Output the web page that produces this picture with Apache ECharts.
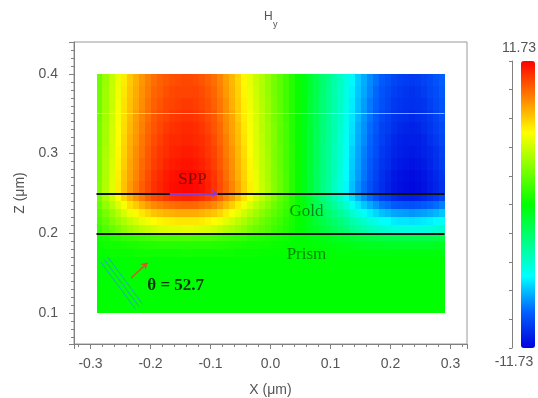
<!DOCTYPE html>
<html>
<head>
<meta charset="utf-8">
<script src="https://cdn.jsdelivr.net/npm/echarts@6/dist/echarts.min.js"></script>
<style>
  html, body { margin: 0; padding: 0; background: #fff; }
  #chart { width: 538px; height: 398px; }
</style>
</head>
<body>
<div id="chart"></div>
<script>
// field grid: column centres (um) and row edges (um, top to bottom)
var xCols = [-0.285, -0.275, -0.265, -0.255, -0.245, -0.235, -0.225, -0.215, -0.205, -0.195,
             -0.185, -0.175, -0.165, -0.155, -0.145, -0.135, -0.125, -0.115, -0.105, -0.095,
             -0.085, -0.075, -0.065, -0.055, -0.045, -0.035, -0.025, -0.015, -0.005, 0.005,
             0.015, 0.025, 0.035, 0.045, 0.055, 0.065, 0.075, 0.085, 0.095, 0.105,
             0.115, 0.125, 0.135, 0.145, 0.155, 0.165, 0.175, 0.185, 0.195, 0.205,
             0.215, 0.225, 0.235, 0.245, 0.255, 0.265, 0.275, 0.285];
var zEdges = [0.40, 0.385, 0.37, 0.355, 0.34, 0.325, 0.31, 0.295, 0.28, 0.265, 0.25,
              0.24, 0.23, 0.22, 0.21, 0.20, 0.19, 0.18, 0.17, 0.10];
var hyRows = [
  [2.5, 3.5, 4.5, 5.4, 6.3, 7.1, 7.7, 8.3, 8.8, 9.2, 9.5, 9.7, 9.9, 10.0, 10.1, 10.1, 10.0, 9.8, 9.5, 9.2, 8.7, 8.1, 7.5, 6.8, 6.0, 5.3, 4.6, 4.0, 3.4, 2.7, 2.1, 1.5, 0.8, 0.2, -0.4, -1.1, -1.8, -2.5, -3.1, -3.8, -4.4, -5.2, -6.0, -6.8, -7.4, -8.0, -8.5, -9.0, -9.3, -9.6, -9.8, -9.9, -10.0, -9.9, -9.7, -9.5, -9.2, -8.9],
  [2.5, 3.6, 4.6, 5.5, 6.4, 7.2, 7.8, 8.4, 8.9, 9.4, 9.6, 9.9, 10.1, 10.2, 10.2, 10.2, 10.2, 10.0, 9.7, 9.4, 8.8, 8.2, 7.6, 6.9, 6.1, 5.4, 4.7, 4.0, 3.4, 2.7, 2.1, 1.5, 0.8, 0.2, -0.4, -1.1, -1.8, -2.5, -3.2, -3.9, -4.5, -5.3, -6.1, -6.9, -7.5, -8.1, -8.7, -9.2, -9.5, -9.8, -10.0, -10.1, -10.2, -10.1, -9.9, -9.6, -9.4, -9.0],
  [2.6, 3.6, 4.6, 5.6, 6.5, 7.3, 7.9, 8.5, 9.1, 9.5, 9.8, 10.1, 10.2, 10.3, 10.4, 10.4, 10.3, 10.1, 9.9, 9.5, 9.0, 8.4, 7.7, 7.0, 6.2, 5.5, 4.8, 4.1, 3.5, 2.8, 2.1, 1.5, 0.8, 0.2, -0.4, -1.2, -1.9, -2.6, -3.2, -3.9, -4.5, -5.3, -6.2, -7.0, -7.7, -8.3, -8.8, -9.3, -9.6, -10.0, -10.1, -10.2, -10.3, -10.2, -10.1, -9.8, -9.5, -9.2],
  [2.6, 3.7, 4.7, 5.7, 6.6, 7.4, 8.1, 8.7, 9.2, 9.7, 10.0, 10.2, 10.4, 10.5, 10.6, 10.6, 10.5, 10.3, 10.0, 9.7, 9.1, 8.5, 7.9, 7.1, 6.3, 5.6, 4.9, 4.2, 3.5, 2.8, 2.2, 1.5, 0.8, 0.2, -0.5, -1.2, -1.9, -2.6, -3.3, -4.0, -4.6, -5.4, -6.3, -7.1, -7.8, -8.4, -9.0, -9.5, -9.8, -10.1, -10.3, -10.4, -10.5, -10.4, -10.2, -10.0, -9.7, -9.3],
  [2.7, 3.8, 4.8, 5.8, 6.7, 7.5, 8.2, 8.8, 9.4, 9.8, 10.1, 10.4, 10.6, 10.7, 10.8, 10.8, 10.7, 10.5, 10.2, 9.8, 9.3, 8.6, 8.0, 7.3, 6.4, 5.7, 5.0, 4.2, 3.6, 2.9, 2.2, 1.6, 0.8, 0.2, -0.5, -1.2, -1.9, -2.7, -3.3, -4.0, -4.7, -5.5, -6.4, -7.3, -7.9, -8.6, -9.1, -9.7, -9.9, -10.3, -10.5, -10.6, -10.7, -10.6, -10.4, -10.1, -9.8, -9.5],
  [2.7, 3.8, 4.9, 5.9, 6.8, 7.7, 8.3, 9.0, 9.5, 10.0, 10.3, 10.6, 10.8, 10.8, 10.9, 10.9, 10.8, 10.7, 10.4, 10.0, 9.4, 8.8, 8.1, 7.4, 6.5, 5.8, 5.0, 4.3, 3.6, 2.9, 2.2, 1.6, 0.8, 0.2, -0.5, -1.2, -2.0, -2.7, -3.4, -4.1, -4.8, -5.6, -6.5, -7.4, -8.0, -8.7, -9.3, -9.8, -10.1, -10.5, -10.7, -10.8, -10.8, -10.8, -10.6, -10.3, -10.0, -9.6],
  [2.8, 3.9, 4.9, 6.0, 6.9, 7.8, 8.5, 9.1, 9.7, 10.2, 10.5, 10.7, 10.9, 11.0, 11.1, 11.1, 11.0, 10.8, 10.5, 10.2, 9.6, 8.9, 8.3, 7.5, 6.7, 5.9, 5.1, 4.4, 3.7, 2.9, 2.3, 1.6, 0.9, 0.2, -0.5, -1.2, -2.0, -2.8, -3.4, -4.2, -4.8, -5.7, -6.7, -7.5, -8.2, -8.8, -9.4, -10.0, -10.3, -10.6, -10.8, -10.9, -11.0, -10.9, -10.7, -10.5, -10.2, -9.8],
  [2.8, 4.0, 5.0, 6.1, 7.0, 7.9, 8.6, 9.3, 9.8, 10.3, 10.6, 10.9, 11.1, 11.2, 11.3, 11.3, 11.2, 11.0, 10.7, 10.3, 9.7, 9.1, 8.4, 7.6, 6.8, 6.0, 5.2, 4.4, 3.8, 3.0, 2.3, 1.6, 0.9, 0.2, -0.5, -1.3, -2.0, -2.8, -3.5, -4.2, -4.9, -5.8, -6.8, -7.6, -8.3, -9.0, -9.6, -10.1, -10.4, -10.8, -11.0, -11.1, -11.2, -11.1, -10.9, -10.6, -10.3, -9.9],
  [2.8, 4.0, 5.1, 6.2, 7.2, 8.0, 8.7, 9.4, 10.0, 10.5, 10.8, 11.1, 11.3, 11.4, 11.5, 11.5, 11.4, 11.2, 10.9, 10.5, 9.9, 9.2, 8.5, 7.7, 6.9, 6.1, 5.3, 4.5, 3.8, 3.0, 2.4, 1.7, 0.9, 0.2, -0.5, -1.3, -2.1, -2.8, -3.5, -4.3, -5.0, -5.9, -6.9, -7.7, -8.4, -9.1, -9.7, -10.3, -10.6, -11.0, -11.2, -11.3, -11.4, -11.3, -11.1, -10.8, -10.5, -10.1],
  [2.9, 4.1, 5.2, 6.3, 7.3, 8.2, 8.9, 9.6, 10.1, 10.6, 10.9, 11.2, 11.4, 11.5, 11.6, 11.6, 11.5, 11.3, 11.0, 10.6, 10.0, 9.4, 8.7, 7.9, 7.0, 6.2, 5.4, 4.6, 3.9, 3.1, 2.4, 1.7, 0.9, 0.2, -0.5, -1.3, -2.1, -2.9, -3.6, -4.4, -5.1, -6.0, -7.0, -7.9, -8.6, -9.3, -9.9, -10.4, -10.7, -11.1, -11.3, -11.4, -11.5, -11.4, -11.2, -10.9, -10.6, -10.2],
  // gold
  [2.7, 3.8, 4.8, 5.9, 6.8, 7.6, 8.3, 8.9, 9.5, 10.0, 10.2, 10.5, 10.7, 10.8, 10.9, 10.9, 10.8, 10.6, 10.3, 10.0, 9.4, 8.7, 8.1, 7.3, 6.5, 5.8, 5.0, 4.3, 3.6, 2.9, 2.2, 1.6, 0.8, 0.2, -0.5, -1.2, -2.0, -2.7, -3.3, -4.1, -4.7, -5.6, -6.5, -7.3, -8.0, -8.6, -9.2, -9.8, -10.0, -10.4, -10.6, -10.7, -10.8, -10.7, -10.5, -10.2, -10.0, -9.6],
  [2.3, 3.3, 4.2, 5.0, 5.8, 6.6, 7.1, 7.7, 8.2, 8.6, 8.8, 9.0, 9.2, 9.3, 9.4, 9.4, 9.3, 9.1, 8.9, 8.6, 8.1, 7.5, 7.0, 6.3, 5.6, 5.0, 4.3, 3.7, 3.1, 2.5, 1.9, 1.4, 0.7, 0.2, -0.4, -1.0, -1.7, -2.3, -2.9, -3.5, -4.1, -4.8, -5.6, -6.3, -6.9, -7.4, -7.9, -8.4, -8.6, -9.0, -9.1, -9.2, -9.3, -9.2, -9.0, -8.8, -8.6, -8.2],
  [1.9, 2.7, 3.5, 4.2, 4.9, 5.5, 6.0, 6.4, 6.8, 7.2, 7.4, 7.6, 7.7, 7.8, 7.8, 7.8, 7.8, 7.6, 7.4, 7.2, 6.8, 6.3, 5.8, 5.3, 4.7, 4.2, 3.6, 3.1, 2.6, 2.1, 1.6, 1.1, 0.6, 0.1, -0.3, -0.9, -1.4, -1.9, -2.4, -2.9, -3.4, -4.0, -4.7, -5.3, -5.8, -6.2, -6.6, -7.0, -7.2, -7.5, -7.6, -7.7, -7.8, -7.7, -7.6, -7.4, -7.2, -6.9],
  [1.6, 2.3, 2.9, 3.5, 4.0, 4.5, 4.9, 5.3, 5.6, 5.9, 6.1, 6.2, 6.3, 6.4, 6.4, 6.4, 6.4, 6.3, 6.1, 5.9, 5.6, 5.2, 4.8, 4.3, 3.9, 3.4, 3.0, 2.5, 2.1, 1.7, 1.3, 0.9, 0.5, 0.1, -0.3, -0.7, -1.2, -1.6, -2.0, -2.4, -2.8, -3.3, -3.9, -4.3, -4.7, -5.1, -5.4, -5.8, -5.9, -6.2, -6.3, -6.3, -6.4, -6.3, -6.2, -6.1, -5.9, -5.7],
  [1.3, 1.8, 2.3, 2.8, 3.3, 3.7, 4.0, 4.3, 4.6, 4.8, 5.0, 5.1, 5.2, 5.2, 5.3, 5.3, 5.2, 5.1, 5.0, 4.8, 4.5, 4.2, 3.9, 3.6, 3.2, 2.8, 2.4, 2.1, 1.8, 1.4, 1.1, 0.8, 0.4, 0.1, -0.2, -0.6, -0.9, -1.3, -1.6, -2.0, -2.3, -2.7, -3.2, -3.6, -3.9, -4.2, -4.5, -4.7, -4.9, -5.0, -5.1, -5.2, -5.2, -5.2, -5.1, -5.0, -4.8, -4.6],
  // prism
  [0.4, 0.6, 0.8, 0.9, 1.1, 1.2, 1.3, 1.4, 1.5, 1.6, 1.7, 1.7, 1.7, 1.7, 1.8, 1.8, 1.7, 1.7, 1.7, 1.6, 1.5, 1.4, 1.3, 1.2, 1.1, 0.9, 0.8, 0.7, 0.6, 0.5, 0.4, 0.3, 0.1, 0, -0.1, -0.2, -0.3, -0.4, -0.5, -0.7, -0.8, -0.9, -1.1, -1.2, -1.3, -1.4, -1.5, -1.6, -1.6, -1.7, -1.7, -1.7, -1.7, -1.7, -1.7, -1.7, -1.6, -1.5],
  [0.2, 0.3, 0.4, 0.4, 0.5, 0.6, 0.6, 0.7, 0.7, 0.7, 0.8, 0.8, 0.8, 0.8, 0.8, 0.8, 0.8, 0.8, 0.8, 0.7, 0.7, 0.7, 0.6, 0.6, 0.5, 0.4, 0.4, 0.3, 0.3, 0.2, 0.2, 0.1, 0.1, 0, 0, -0.1, -0.1, -0.2, -0.3, -0.3, -0.4, -0.4, -0.5, -0.6, -0.6, -0.7, -0.7, -0.7, -0.8, -0.8, -0.8, -0.8, -0.8, -0.8, -0.8, -0.8, -0.7, -0.7],
  [0.1, 0.1, 0.2, 0.2, 0.2, 0.2, 0.3, 0.3, 0.3, 0.3, 0.3, 0.3, 0.3, 0.3, 0.4, 0.4, 0.3, 0.3, 0.3, 0.3, 0.3, 0.3, 0.3, 0.2, 0.2, 0.2, 0.2, 0.1, 0.1, 0.1, 0.1, 0.1, 0, 0, 0, 0, -0.1, -0.1, -0.1, -0.1, -0.2, -0.2, -0.2, -0.2, -0.3, -0.3, -0.3, -0.3, -0.3, -0.3, -0.3, -0.3, -0.3, -0.3, -0.3, -0.3, -0.3, -0.3],
  [0, 0, 0, 0, 0, 0, 0, 0, 0, 0, 0, 0, 0, 0, 0, 0, 0, 0, 0, 0, 0, 0, 0, 0, 0, 0, 0, 0, 0, 0, 0, 0, 0, 0, 0, 0, 0, 0, 0, 0, 0, 0, 0, 0, 0, 0, 0, 0, 0, 0, 0, 0, 0, 0, 0, 0, 0, 0]
];
var hyMin = -11.73;
var hyMax = 11.73;
var colorLabels = ['11.73', '-11.73'];

// structure drawn over the field (um)
var layerEdge = [-0.29, 0.29];
var interfaceZ = [0.25, 0.2];
var monitorZ = 0.35;
var sppArrow = [[-0.168, 0.25], [-0.088, 0.25]];
var beamArrow = [[-0.232, 0.144], [-0.205, 0.163]];
var beamLines = [
  [[-0.283, 0.164], [-0.225, 0.105]],
  [[-0.277, 0.167], [-0.219, 0.108]],
  [[-0.271, 0.170], [-0.213, 0.111]]
];
var notes = [
  { text: 'SPP', x: -0.13, z: 0.267 },
  { text: 'Gold', x: 0.06, z: 0.227 },
  { text: 'Prism', x: 0.06, z: 0.173 },
  { text: '\u03b8 = 52.7', x: -0.158, z: 0.134 }
];

var cellW = 0.01;
var cells = [];
for (var i = 0; i < hyRows.length; i++) {
  for (var j = 0; j < xCols.length; j++) {
    var zTop = zEdges[i], zBot = zEdges[i + 1];
    cells.push([xCols[j], (zTop + zBot) / 2, hyRows[i][j], zTop, zBot]);
  }
}

function renderCell(params, api) {
  var x = api.value(0);
  var p0 = api.coord([x - cellW / 2, api.value(3)]);
  var p1 = api.coord([x + cellW / 2, api.value(4)]);
  var x0 = Math.round(p0[0]), y0 = Math.round(p0[1]);
  return {
    type: 'rect',
    shape: { x: x0, y: y0, width: Math.round(p1[0]) - x0, height: Math.round(p1[1]) - y0 },
    style: { fill: api.visual('color') }
  };
}

var axisGray = '#808080';
var textGray = '#555';
var sans = 'Liberation Sans, Arial, sans-serif';

function segLines(color, width, list, arrow) {
  return {
    type: 'lines',
    coordinateSystem: 'cartesian2d',
    xAxisIndex: 0,
    yAxisIndex: 0,
    symbol: arrow ? ['none', 'arrow'] : 'none',
    symbolSize: 6,
    data: list.map(function (c) { return { coords: c }; }),
    lineStyle: { color: color, width: width, opacity: 1 },
    silent: true,
    z: 3
  };
}

var myChart = echarts.init(document.getElementById('chart'));
var option = {
  animation: false,
  textStyle: { fontFamily: sans },
  grid: [
    { left: 74, top: 42, right: 71, bottom: 54, show: true, borderColor: '#999', borderWidth: 1, outerBoundsMode: 'none' },
    { left: 512, top: 61, width: 1, height: 287, outerBoundsMode: 'none' }
  ],
  xAxis: [{
    gridIndex: 0,
    type: 'value',
    min: -0.3275,
    max: 0.3275,
    name: 'X (\u03bcm)',
    nameLocation: 'middle',
    nameGap: 39,
    nameTextStyle: { color: textGray, fontSize: 14 },
    axisLine: { onZero: false, lineStyle: { color: axisGray } },
    axisTick: { length: 5, lineStyle: { color: axisGray } },
    minorTick: { show: true, splitNumber: 5, length: 3, lineStyle: { color: axisGray } },
    splitLine: { show: false },
    axisLabel: {
      color: textGray, fontSize: 14, margin: 13, showMinLabel: false, showMaxLabel: false,
      formatter: function (v) { return v.toFixed(1); }
    }
  }, {
    gridIndex: 1, type: 'value', show: false
  }],
  yAxis: [{
    gridIndex: 0,
    type: 'value',
    min: 0.0611,
    max: 0.44,
    name: 'Z (\u03bcm)',
    nameLocation: 'middle',
    nameGap: 45,
    nameTextStyle: { color: textGray, fontSize: 14 },
    axisLine: { onZero: false, lineStyle: { color: axisGray } },
    axisTick: { length: 5, lineStyle: { color: axisGray } },
    minorTick: { show: true, splitNumber: 10, length: 3, lineStyle: { color: axisGray } },
    splitLine: { show: false },
    axisLabel: {
      color: textGray, fontSize: 14, margin: 16, showMinLabel: false, showMaxLabel: false,
      formatter: function (v) { return v.toFixed(1); }
    }
  }, {
    gridIndex: 1,
    type: 'value',
    min: hyMin,
    max: hyMax,
    interval: (hyMax - hyMin) / 10,
    axisLine: { show: true, onZero: false, lineStyle: { color: axisGray } },
    axisTick: { show: true, length: 3, lineStyle: { color: axisGray } },
    axisLabel: { show: false },
    splitLine: { show: false }
  }],
  visualMap: {
    type: 'continuous',
    min: hyMin,
    max: hyMax,
    seriesIndex: 0,
    dimension: 2,
    calculable: false,
    left: 521,
    top: 61,
    itemWidth: 14,
    itemHeight: 287,
    padding: 0,
    inRange: {
      color: ['#0000dc', '#0060ff', '#00ffff', '#00ff80', '#00ff00', '#80ff00', '#ffff00', '#ff8000', '#ff0000']
    }
  },
  graphic: [
    { type: 'text', x: 264, y: 11, style: { text: 'H', fill: textGray, font: '12px ' + sans } },
    { type: 'text', x: 273, y: 20, style: { text: 'y', fill: textGray, font: '9px ' + sans } },
    { type: 'text', x: 519, y: 48, style: { text: colorLabels[0], fill: textGray, font: '14px ' + sans, align: 'center', verticalAlign: 'middle' } },
    { type: 'text', x: 514, y: 362, style: { text: colorLabels[1], fill: textGray, font: '14px ' + sans, align: 'center', verticalAlign: 'middle' } }
  ],
  series: [{
    type: 'custom',
    xAxisIndex: 0,
    yAxisIndex: 0,
    renderItem: renderCell,
    data: cells,
    encode: { x: 0, y: 1 },
    silent: true,
    z: 1
  },
  segLines('rgba(210,255,255,0.6)', 1, [[[layerEdge[0], monitorZ], [layerEdge[1], monitorZ]]], false),
  segLines('#111', 2, interfaceZ.map(function (z) { return [[layerEdge[0], z], [layerEdge[1], z]]; }), false),
  segLines('#22a8b8', 1, beamLines, false),
  segLines('#8a3cc8', 2, [sppArrow], true),
  segLines('#e0502a', 1.5, [beamArrow], true),
  {
    type: 'scatter',
    xAxisIndex: 0,
    yAxisIndex: 0,
    symbolSize: 0,
    silent: true,
    z: 5,
    data: notes.map(function (n, k) {
      var bold = k === 3;
      return {
        value: [n.x, n.z],
        label: {
          show: true,
          position: 'inside',
          formatter: n.text,
          fontFamily: 'Liberation Serif, Times New Roman, serif',
          fontSize: 17,
          fontWeight: bold ? 'bold' : 'normal',
          color: bold ? '#000' : 'rgba(0,0,0,0.6)'
        }
      };
    })
  }]
};
myChart.setOption(option);
</script>
</body>
</html>
